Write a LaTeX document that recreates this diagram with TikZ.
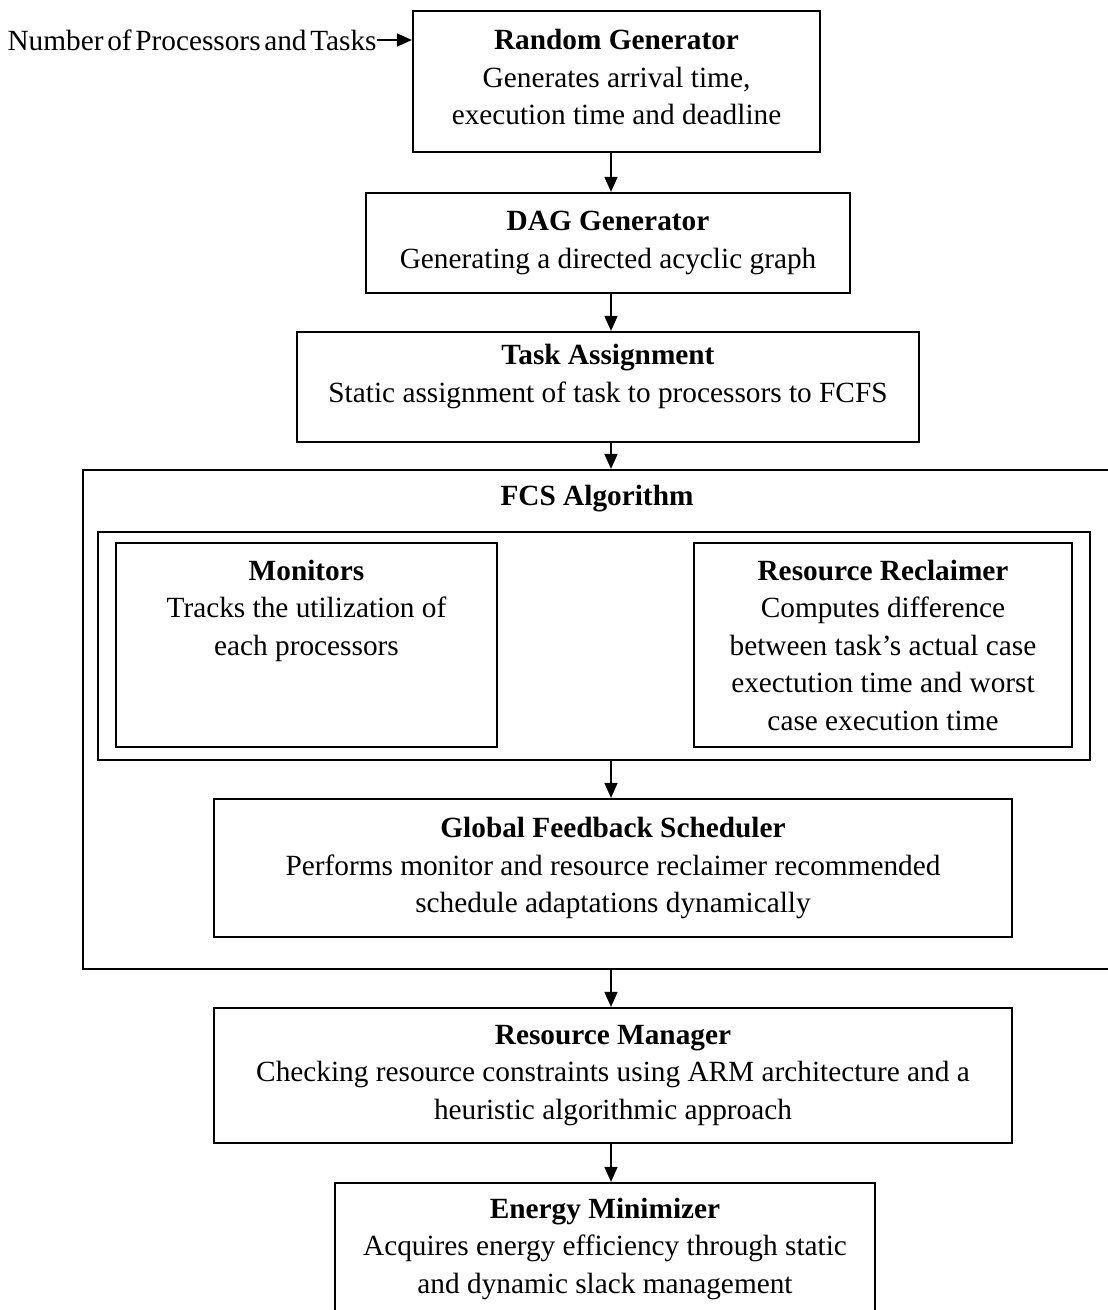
\documentclass[tikz,border=0pt]{standalone}
\usepackage{fontspec}
\setmainfont{Liberation Serif}
\newfontfamily\tightfont[WordSpace=0.5]{Liberation Serif}
\usetikzlibrary{arrows.meta}

\begin{document}
\begin{tikzpicture}[x=0.5pt,y=-0.5pt]
    \tikzset{
    blk/.style={draw, line width=1.1pt, inner sep=0pt, align=center, font=\fontsize{14.65}{18.75}\selectfont},
    ttl/.style={inner sep=0pt, font=\fontsize{14.65}{18.75}\selectfont\bfseries},
    flow/.style={-{Triangle[length=7.5pt,width=6.5pt]}, line width=0.8pt},
    }
    \useasboundingbox (0,0) rectangle (1107,1310);
    \coordinate (ax) at (611,0);

    \node[blk, minimum width=516pt, minimum height=249.5pt] (fcs) at (599,719.5) {};
    \node[ttl] (fcst) at (597,499) {FCS Algorithm};
    \node[blk, minimum width=496pt, minimum height=114pt] (grp) at (594,646) {};

    \node[inner sep=0pt, anchor=east, font=\tightfont\fontsize{14.65}{18.75}\selectfont] (in) at (377,40) {Number of Processors and Tasks};
    \node[blk, minimum width=203.5pt, minimum height=70.5pt] (rg) at (616.5,81.5) {\textbf{Random Generator}\\Generates arrival time,\\execution time and deadline\\[-14.25pt]~};
    \node[blk, minimum width=242pt, minimum height=50pt] (dag) at (608,243) {\textbf{DAG Generator}\\Generating a directed acyclic graph};
    \node[blk, minimum width=311pt, minimum height=55pt] (tsk) at (608,387) {\textbf{Task Assignment}\\Static assignment of task to processors to FCFS\\[-5pt]~};
    \node[blk, minimum width=190.5pt, minimum height=102pt] (mon) at (306.5,645) {\textbf{Monitors}\\Tracks the utilization of\\each processors\\~\\~};
    \node[blk, minimum width=189pt, minimum height=102pt] (rr) at (883,645) {\textbf{Resource Reclaimer}\\Computes difference\\between task's actual case\\exectution time and worst\\case execution time};
    \node[blk, minimum width=399pt, minimum height=69pt] (gfs) at (613,868) {\textbf{Global Feedback Scheduler}\\Performs monitor and resource reclaimer recommended\\schedule adaptations dynamically};
    \node[blk, minimum width=399pt, minimum height=67.5pt] (rm) at (613,1075.5) {\textbf{Resource Manager}\\Checking resource constraints using ARM architecture and a\\heuristic algorithmic approach};
    \node[blk, minimum width=270pt, minimum height=65.5pt] (em) at (605,1248.5) {\textbf{Energy Minimizer}\\Acquires energy efficiency through static\\and dynamic slack management};

    \draw[flow] (in.east) -- (in.east -| rg.west);
    \draw[flow] (ax |- rg.south) -- (ax |- dag.north);
    \draw[flow] (ax |- dag.south) -- (ax |- tsk.north);
    \draw[flow] (ax |- tsk.south) -- (ax |- fcs.north);
    \draw[flow] (ax |- grp.south) -- (ax |- gfs.north);
    \draw[flow] (ax |- fcs.south) -- (ax |- rm.north);
    \draw[flow] (ax |- rm.south) -- (ax |- em.north);

\end{tikzpicture}
\end{document}
